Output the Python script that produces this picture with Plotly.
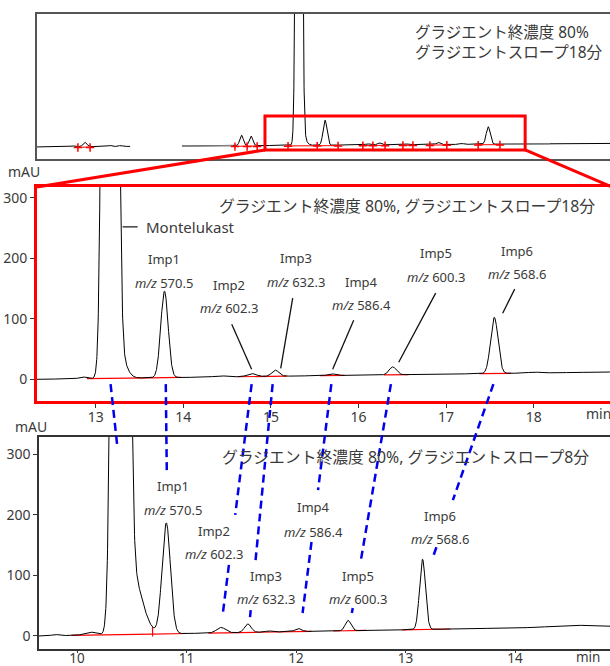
import numpy as np
import plotly.graph_objects as go

W, H = 610, 666
FONT = "Noto Sans, Noto Sans CJK JP, sans-serif"
TXT = "#3a3a3a"

# ---------------- peak tables (retention time min, height mAU, sigma left/right min) -------------
# 18-min gradient, full run (overview)
ov_rt    = [8.00, 8.28, 8.85, 9.10, 11.88, 12.10, 12.85, 13.20, 13.30, 13.80, 14.78, 15.05, 15.70, 16.40, 16.95, 17.55]
ov_h     = [5,    25,   6,    5,    60,    55,    3,     8000,  40,    143,   6,     11,    4,     12,    5,     100]
ov_sl    = [0.04, 0.045,0.04, 0.04, 0.04,  0.04,  0.04,  0.046, 0.02,  0.045, 0.05,  0.04,  0.04,  0.04,  0.04,  0.045]
ov_sr    = [0.04, 0.045,0.04, 0.04, 0.04,  0.04,  0.04,  0.046, 0.07,  0.045, 0.05,  0.04,  0.04,  0.04,  0.04,  0.045]
ov_drift = [0, 20]

# 18-min gradient, expanded window
mid_rt    = [12.85, 13.165, 13.27, 13.785, 14.42, 14.78, 15.05, 15.69, 16.39, 17.55, 18.00]
mid_h     = [3,     8000,   40,    143,    2,     5,     10,    3,     13,    93,    1.5]
mid_sl    = [0.04,  0.046,  0.02,  0.042,  0.06,  0.05,  0.04,  0.04,  0.04,  0.042, 0.06]
mid_sr    = [0.04,  0.046,  0.07,  0.042,  0.06,  0.05,  0.04,  0.04,  0.04,  0.042, 0.06]
mid_drift = [0, 12]

# 8-min gradient
bot_rt    = [9.80, 10.12, 10.397, 10.50, 10.815, 11.315, 11.56, 11.75, 12.02, 12.475, 13.155, 14.50]
bot_h     = [2,    5,     8000,   100,   183,    9,      14,    2,     5,     17,     116,    3]
bot_sl    = [0.03, 0.05,  0.0415, 0.02,  0.038,  0.04,   0.03,  0.03,  0.03,  0.026,  0.027,  0.15]
bot_sr    = [0.03, 0.05,  0.0415, 0.09,  0.038,  0.04,   0.03,  0.03,  0.03,  0.026,  0.027,  0.15]
bot_drift = [0, 16]

# integration marks / baselines
ov_marks = [8.12, 8.40, 11.73, 12.01, 12.24, 12.95, 13.62, 14.10, 14.67, 14.90, 15.18,
            15.59, 15.82, 16.21, 16.60, 17.32, 17.82]
ov_bl    = [(8.12, 8.40), (11.73, 12.24), (12.95, 13.62), (13.62, 14.10), (14.67, 15.18),
            (15.59, 15.82), (16.21, 16.60), (17.32, 17.82)]
mid_bl   = [(12.90, 13.62), (13.62, 13.97), (14.62, 15.18), (15.56, 15.84), (16.29, 16.57), (17.38, 17.74)]
bot_bl   = [(9.95, 10.69), (10.69, 11.00), (11.20, 11.65), (11.65, 12.14), (12.34, 12.64), (12.97, 13.41)]
bot_drop = 10.69

# impurity labels
imp_names = ["Imp1", "Imp2", "Imp3", "Imp4", "Imp5", "Imp6"]
imp_mz    = ["570.5", "602.3", "632.3", "586.4", "600.3", "568.6"]

# matched peaks between the two runs (min)
link_mid_t = [13.17, 13.80, 14.78, 15.02, 15.69, 16.37, 17.54]
link_bot_t = [10.37, 10.82, 11.33, 11.58, 12.06, 12.51, 13.25]

# ---------------- axes geometry ----------------
ax_top = dict(xd=[37 / W, 1.0], yd=[1 - 159 / H, 1 - 14 / H], xr=[7.18, 20.35], yr=[-69, 760])
ax_mid = dict(xd=[37 / W, 1.0], yd=[1 - 401 / H, 1 - 187 / H], xr=[12.33, 18.871], yr=[-35.9, 317.9])
ax_bot = dict(xd=[39 / W, 1.0], yd=[1 - 649 / H, 1 - 437 / H], xr=[9.653, 14.867], yr=[-21.5, 328.6])


def to_paper(ax, t, v):
    fx = (t - ax["xr"][0]) / (ax["xr"][1] - ax["xr"][0])
    fy = (v - ax["yr"][0]) / (ax["yr"][1] - ax["yr"][0])
    return (ax["xd"][0] + fx * (ax["xd"][1] - ax["xd"][0]),
            ax["yd"][0] + fy * (ax["yd"][1] - ax["yd"][0]))


def drift_at(ax, drift, t):
    x0, x1 = ax["xr"]
    return drift[0] + (drift[1] - drift[0]) * (np.asarray(t) - x0) / (x1 - x0)


def chromatogram(ax, rts, hs, sl, sr, drift):
    t = np.arange(ax["xr"][0], ax["xr"][1] + 0.001, 0.002)
    y = drift_at(ax, drift, t).astype(float)
    for rt, h, a, b in zip(rts, hs, sl, sr):
        s = np.where(t < rt, a, b)
        y = y + h * np.exp(-0.5 * ((t - rt) / s) ** 2)
    return t, y


fig = go.Figure()

# ---------------- overview trace ----------------
t, y = chromatogram(ax_top, ov_rt, ov_h, ov_sl, ov_sr, ov_drift)
y_ov = y.copy()
y_ov[(t > 9.32) & (t < 10.51)] = np.nan
fig.add_trace(go.Scatter(x=t, y=y_ov, mode="lines", line=dict(color="black", width=1),
                         xaxis="x", yaxis="y", hoverinfo="skip"))
for a, b in [(10.51, 11.69), (17.9, 18.97)]:
    m = (t >= a) & (t <= b)
    fig.add_trace(go.Scatter(x=t[m], y=y[m], mode="lines", line=dict(color="#8a8a8a", width=1.3),
                             xaxis="x", yaxis="y", hoverinfo="skip"))
bx, by = [], []
for a, b in ov_bl:
    bx += [a, b, None]
    by += [float(drift_at(ax_top, ov_drift, a)) - 3, float(drift_at(ax_top, ov_drift, b)) - 3, None]
fig.add_trace(go.Scatter(x=bx, y=by, mode="lines", line=dict(color="red", width=1),
                         xaxis="x", yaxis="y", hoverinfo="skip"))
fig.add_trace(go.Scatter(x=ov_marks, y=drift_at(ax_top, ov_drift, ov_marks) - 5, mode="markers",
                         marker=dict(symbol="cross-thin", size=6, line=dict(color="red", width=1.5)),
                         xaxis="x", yaxis="y", hoverinfo="skip"))

# ---------------- expanded trace (18 min) ----------------
t, y = chromatogram(ax_mid, mid_rt, mid_h, mid_sl, mid_sr, mid_drift)
bx, by = [], []
for a, b in mid_bl:
    bx += [a, b, None]
    by += [float(drift_at(ax_mid, mid_drift, a)), float(drift_at(ax_mid, mid_drift, b)), None]
fig.add_trace(go.Scatter(x=bx, y=by, mode="lines", line=dict(color="red", width=1.2),
                         xaxis="x2", yaxis="y2", hoverinfo="skip"))
fig.add_trace(go.Scatter(x=t, y=y, mode="lines", line=dict(color="black", width=1),
                         xaxis="x2", yaxis="y2", hoverinfo="skip"))

# ---------------- 8 min gradient trace ----------------
t, y = chromatogram(ax_bot, bot_rt, bot_h, bot_sl, bot_sr, bot_drift)
bx, by = [], []
for a, b in bot_bl:
    bx += [a, b, None]
    by += [float(drift_at(ax_bot, bot_drift, a)), float(drift_at(ax_bot, bot_drift, b)), None]
valley = float(np.interp(bot_drop, t, y))
bx += [bot_drop, bot_drop]
by += [float(drift_at(ax_bot, bot_drift, bot_drop)) - 4, valley]
fig.add_trace(go.Scatter(x=bx, y=by, mode="lines", line=dict(color="red", width=1.2),
                         xaxis="x3", yaxis="y3", hoverinfo="skip"))
fig.add_trace(go.Scatter(x=t, y=y, mode="lines", line=dict(color="black", width=1),
                         xaxis="x3", yaxis="y3", hoverinfo="skip"))

shapes = []
annotations = []


def label(xref, yref, x, yv, text, size=13, xanchor="center"):
    annotations.append(dict(xref=xref, yref=yref, x=x, y=yv, text=text, showarrow=False,
                            xanchor=xanchor, yanchor="middle",
                            font=dict(family=FONT, size=size, color=TXT)))


# zoom window on the overview and its guide lines
rect_t = [12.42, 18.40]
rect_v = [-17, 177]
shapes.append(dict(type="rect", xref="x", yref="y", x0=rect_t[0], x1=rect_t[1], y0=rect_v[0], y1=rect_v[1],
                   line=dict(color="red", width=3), layer="above"))
p0 = to_paper(ax_top, rect_t[0], rect_v[0])
p1 = to_paper(ax_top, rect_t[1], rect_v[0])
shapes.append(dict(type="line", xref="paper", yref="paper", x0=p0[0], y0=p0[1],
                   x1=ax_mid["xd"][0], y1=ax_mid["yd"][1], line=dict(color="red", width=3)))
shapes.append(dict(type="line", xref="paper", yref="paper", x0=p1[0], y0=p1[1],
                   x1=ax_mid["xd"][1] + 2 / W, y1=ax_mid["yd"][1], line=dict(color="red", width=3)))

# titles
annotations.append(dict(xref="x", yref="y", x=15.82, y=600,
                        text="グラジエント終濃度 80%<br>グラジエントスロープ18分", showarrow=False,
                        xanchor="left", yanchor="middle", align="left",
                        font=dict(family=FONT, size=15.5, color=TXT)))
label("x2", "y2", 18.72, 286, "グラジエント終濃度 80%, グラジエントスロープ18分", size=15.8, xanchor="right")
label("x3", "y3", 14.694, 295.6, "グラジエント終濃度 80%, グラジエントスロープ8分", size=15.8, xanchor="right")

# Montelukast label
shapes.append(dict(type="line", xref="x2", yref="y2", x0=13.308, x1=13.479, y0=252, y1=252,
                   line=dict(color="#222", width=1.3)))
label("x2", "y2", 13.548, 252, "Montelukast", size=15, xanchor="left")

# impurity labels, expanded run
mid_lab_pos = [(13.776, 198.7, 159.0), (14.518, 155.6, 117.5), (15.283, 200.0, 160.6),
               (16.037, 160.6, 122.5), (16.881, 208.6, 168.9), (17.806, 211.9, 173.8)]
for name, mz, (lx, ly, my) in zip(imp_names, imp_mz, mid_lab_pos):
    label("x2", "y2", lx, ly, name)
    label("x2", "y2", lx, my, "<i>m/z</i> " + mz)
mid_leaders = [(14.553, 91, 14.78, 16.6), (15.249, 134, 15.112, 18.2), (15.945, 97.7, 15.705, 16.6),
               (16.881, 142.4, 16.459, 28.1), (17.783, 149, 17.646, 109.3)]
for x0, y0, x1, y1 in mid_leaders:
    shapes.append(dict(type="line", xref="x2", yref="y2", x0=x0, y0=y0, x1=x1, y1=y1,
                       line=dict(color="#111", width=1.3)))

# impurity labels, 8 min run
bot_lab_pos = [(10.877, 247.7, 208.0), (11.251, 173.4, 135.4), (11.726, 99.0, 61.0),
               (12.164, 213.0, 171.7), (12.566, 99.0, 61.0), (13.315, 198.2, 160.2)]
for name, mz, (lx, ly, my) in zip(imp_names, imp_mz, bot_lab_pos):
    label("x3", "y3", lx, ly, name)
    label("x3", "y3", lx, my, "<i>m/z</i> " + mz)

# dashed links between matching peaks
link_end_v = [310, 270, 35, 31, 38, 38, 130]
link_gaps = [None, None, (0.567, 0.784), (0.755, 0.970), (0.463, 0.690), (0.769, 0.978), (0.67, 0.942)]
for tm, tb, vb, gap in zip(link_mid_t, link_bot_t, link_end_v, link_gaps):
    a = to_paper(ax_mid, tm, -8)
    b = to_paper(ax_bot, tb, vb)
    pieces = [(0, 1)] if gap is None else [(0, gap[0]), (gap[1], 1)]
    for f0, f1 in pieces:
        shapes.append(dict(type="line", xref="paper", yref="paper",
                           x0=a[0] + f0 * (b[0] - a[0]), y0=a[1] + f0 * (b[1] - a[1]),
                           x1=a[0] + f1 * (b[0] - a[0]), y1=a[1] + f1 * (b[1] - a[1]),
                           line=dict(color="#0000ee", width=2.5, dash="8px,5px"), layer="above"))

# unit labels
for px, py, s, fs in [(24, 172, "mAU", 14), (31, 426, "mAU", 14), (598, 413, "min", 14), (588, 657, "min", 13.5)]:
    annotations.append(dict(xref="paper", yref="paper", x=px / W, y=1 - py / H, text=s, showarrow=False,
                            xanchor="center", yanchor="middle", font=dict(family=FONT, size=fs, color=TXT)))

tickfont = dict(family=FONT, size=14, color=TXT)
common = dict(showgrid=False, zeroline=False, fixedrange=True, automargin=False)

fig.update_layout(
    width=W, height=H, margin=dict(l=0, r=0, t=0, b=0, autoexpand=False),
    paper_bgcolor="white", plot_bgcolor="white", showlegend=False,
    xaxis=dict(domain=ax_top["xd"], range=ax_top["xr"], anchor="y", showline=True, mirror=True,
               linecolor="#555", linewidth=1.8, showticklabels=False, ticks="", **common),
    yaxis=dict(domain=ax_top["yd"], range=ax_top["yr"], anchor="x", showline=True,
               linecolor="#555", linewidth=1.8, showticklabels=False, ticks="", **common),
    xaxis2=dict(domain=ax_mid["xd"], range=ax_mid["xr"], anchor="y2", showline=True, mirror=True,
                linecolor="red", linewidth=3, ticks="outside", ticklen=4, tickcolor="#333",
                ticklabelstandoff=-3,
                tickvals=[13, 14, 15, 16, 17, 18], tickfont=tickfont, **common),
    yaxis2=dict(domain=ax_mid["yd"], range=ax_mid["yr"], anchor="x2", showline=True,
                linecolor="red", linewidth=3, ticks="outside", ticklen=4, tickcolor="#333",
                tickvals=[0, 100, 200, 300], tickfont=tickfont, **common),
    xaxis3=dict(domain=ax_bot["xd"], range=ax_bot["xr"], anchor="y3", showline=True, mirror=True,
                linecolor="#333", linewidth=1.5, ticks="outside", ticklen=2, tickcolor="#333",
                ticklabelstandoff=-6,
                tickvals=[10, 11, 12, 13, 14], tickfont=dict(family=FONT, size=13.5, color=TXT), **common),
    yaxis3=dict(domain=ax_bot["yd"], range=ax_bot["yr"], anchor="x3", showline=True,
                linecolor="#333", linewidth=1.5, ticks="outside", ticklen=4, tickcolor="#333",
                tickvals=[0, 100, 200, 300], tickfont=tickfont, **common),
    shapes=shapes, annotations=annotations,
)

fig.write_html("out.html")
